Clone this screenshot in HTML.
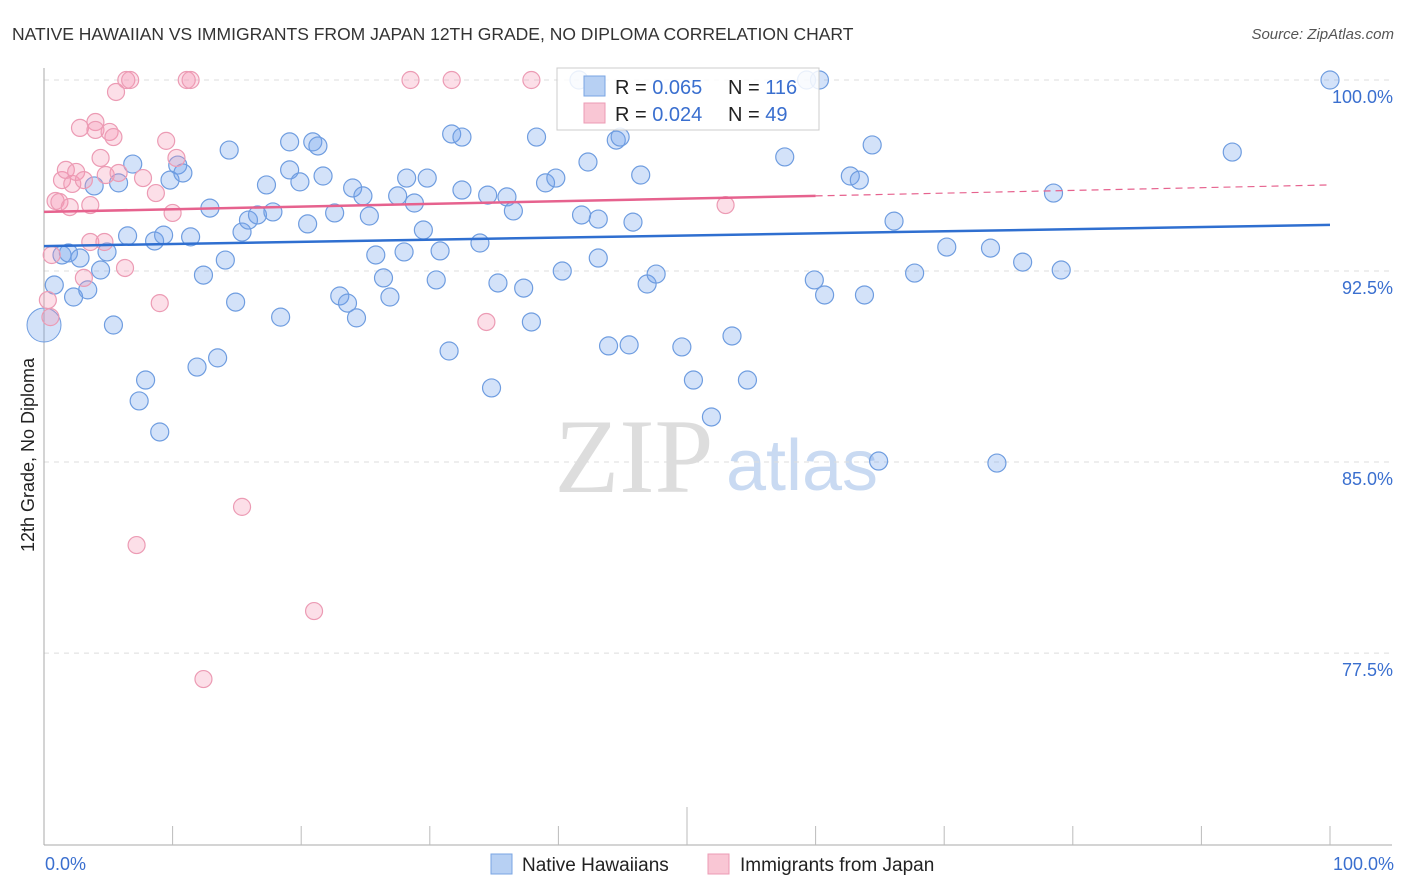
<!DOCTYPE html>
<html><head><meta charset="utf-8"><style>
body{margin:0;background:#fff;font-family:"Liberation Sans",sans-serif;}
svg{display:block}
</style></head><body>
<svg id="chart" width="1406" height="892">
<text x="12" y="40" font-size="17.5" fill="#333">NATIVE HAWAIIAN VS IMMIGRANTS FROM JAPAN 12TH GRADE, NO DIPLOMA CORRELATION CHART</text>
<text x="1394" y="39" font-size="15" fill="#555" font-style="italic" text-anchor="end">Source: ZipAtlas.com</text>
<g>
<text x="634" y="492" font-size="106" font-family="Liberation Serif,serif" fill="#ddd" text-anchor="middle">ZIP</text>
<text x="802" y="490" font-size="72" fill="#c9daf2" text-anchor="middle">atlas</text>
</g>
<g id="grid"></g>
<g id="axes"></g>
<g id="pts"></g>
<g id="trend"></g>
<text transform="translate(34,455) rotate(-90)" font-size="18" fill="#222" text-anchor="middle">12th Grade, No Diploma</text>
<g>
<rect x="557" y="68" width="262" height="62" fill="#fff" fill-opacity="0.85" stroke="#ccc"/>
<rect x="584" y="76" width="21" height="20" fill="#b7d0f3" stroke="#7aa5e3"/>
<rect x="584" y="103" width="21" height="20" fill="#f9c6d4" stroke="#ec9bb4"/>
<text x="615" y="94" font-size="20" fill="#222">R = <tspan fill="#3a6fcf">0.065</tspan></text>
<text x="728" y="94" font-size="20" fill="#222">N = <tspan fill="#3a6fcf">116</tspan></text>
<text x="615" y="121" font-size="20" fill="#222">R = <tspan fill="#3a6fcf">0.024</tspan></text>
<text x="728" y="121" font-size="20" fill="#222">N = <tspan fill="#3a6fcf"> 49</tspan></text>
</g>
<g>
<rect x="491" y="854" width="21" height="20" fill="#b7d0f3" stroke="#7aa5e3"/>
<text x="522" y="871" font-size="19" fill="#222">Native Hawaiians</text>
<rect x="708" y="854" width="21" height="20" fill="#f9c6d4" stroke="#ec9bb4"/>
<text x="740" y="871" font-size="19" fill="#222">Immigrants from Japan</text>
</g>
</svg>
<script>
const yTicks=[100,92.5,85,77.5];
const yTickLabels=["100.0%","92.5%","85.0%","77.5%"];
const xTickLabels=["0.0%","100.0%"];
const blueX=[0.8,1.4,1.9,2.3,2.8,3.4,3.9,4.4,4.9,5.4,5.8,6.5,6.9,7.4,7.9,8.6,9.0,9.3,9.8,10.4,10.8,11.4,11.9,12.4,12.9,13.5,14.1,14.4,14.9,15.4,15.9,16.6,17.3,17.8,18.4,19.1,19.1,19.9,20.5,20.9,21.3,21.7,22.6,23.0,23.6,24.0,24.3,24.8,25.3,25.8,26.4,26.9,27.5,28.0,28.2,28.8,29.5,29.8,30.5,30.8,31.5,31.7,32.5,32.5,33.9,34.5,34.8,35.3,36.0,36.5,37.3,37.9,38.3,39.0,39.8,40.3,41.6,41.8,42.3,43.1,43.1,43.9,44.5,44.8,45.5,45.8,46.4,46.9,47.6,49.6,50.5,51.9,53.5,54.7,57.6,59.3,59.9,60.3,60.7,62.7,63.4,63.8,64.4,64.9,66.1,67.7,70.2,73.6,74.1,76.1,78.5,79.1,92.4,100];
const blueY=[91.95,93.13,93.21,91.48,93.01,91.76,95.84,92.54,93.25,90.38,95.96,93.88,96.70,87.40,88.22,93.68,86.18,93.91,96.07,96.66,96.35,93.84,88.73,92.34,94.97,89.09,92.93,97.25,91.28,94.03,94.50,94.70,95.88,94.82,90.69,97.57,96.47,96.00,94.35,97.57,97.41,96.23,94.78,91.52,91.24,95.76,90.66,95.45,94.66,93.13,92.23,91.48,95.45,93.25,96.15,95.17,94.11,96.15,92.15,93.29,89.36,97.88,97.76,95.68,93.60,95.48,87.91,92.03,95.41,94.86,91.83,90.50,97.76,95.96,96.15,92.50,100,94.70,96.78,94.54,93.01,89.56,97.64,97.76,89.60,94.42,96.27,91.99,92.38,89.52,88.22,86.77,89.95,88.22,96.98,100,92.15,100,91.56,96.23,96.07,91.56,97.45,85.04,94.46,92.42,93.44,93.40,84.96,92.85,95.56,92.54,97.17,100];
const pinkX=[0.3,0.5,0.6,0.9,1.2,1.4,1.7,2.0,2.2,2.5,2.8,3.1,3.1,3.6,3.6,4.0,4.0,4.4,4.7,4.8,5.1,5.4,5.6,5.8,6.3,6.4,6.7,7.2,7.7,8.7,9.0,9.5,10.0,10.3,11.1,11.4,12.4,15.4,21.0,28.5,31.7,34.4,37.9,53.0];
const pinkY=[91.36,90.69,93.13,95.25,95.21,96.07,96.47,95.01,95.92,96.39,98.12,96.07,92.23,95.09,93.64,98.35,98.04,96.94,93.64,96.27,97.96,97.76,99.53,96.35,92.62,100,100,81.74,96.15,95.56,91.24,97.61,94.78,96.94,100,100,76.48,83.24,79.15,100,100,90.50,100,95.09];
const blueTrend=[93.48,94.31];
const pinkTrend=[94.82,95.45,95.88];
const NS="http://www.w3.org/2000/svg";
const X=v=>44+v*12.86;
const Y=v=>80+(100-v)*25.47;
function mk(tag,attrs,parent){const e=document.createElementNS(NS,tag);for(const k in attrs)e.setAttribute(k,attrs[k]);parent.appendChild(e);return e;}
const grid=document.getElementById('grid'),axes=document.getElementById('axes'),pts=document.getElementById('pts'),tr=document.getElementById('trend');
yTicks.forEach((t,i)=>{
 const l=mk('line',{x1:44,x2:1392,y1:Y(t),y2:Y(t),stroke:'#ddd','stroke-dasharray':'5,5'},grid);
 
 
 const tx=mk('text',{x:1393,y:Y(t)+23,'font-size':18,fill:'#3a6fcf','text-anchor':'end'},grid);
 tx.textContent=yTickLabels[i];
 
 
});
const ya=mk('line',{x1:44,x2:44,y1:68,y2:845,stroke:'#aaa'},axes);


const xa=mk('line',{x1:44,x2:1392,y1:845,y2:845,stroke:'#aaa'},axes);


for(let i=1;i<=10;i++){
 const tk=mk('line',{x1:X(i*10),x2:X(i*10),y1:i==5?807:826,y2:845,stroke:'#bbb'},axes);
 
 
}
[[0,'start',45],[100,'end',1394]].forEach((d,i)=>{
 const tx=mk('text',{x:d[2],y:870,'font-size':18,fill:'#3a6fcf','text-anchor':d[1]},axes);
 tx.textContent=xTickLabels[i];
 
 
});
blueX.forEach((v,i)=>{
 const c=mk('circle',{cx:X(v),cy:Y(blueY[i]),r:9,fill:'rgba(110,160,235,0.3)',stroke:'#6f9de0','stroke-width':1.2},pts);
 
 
});
const big=mk('circle',{cx:X(0),cy:Y(90.38),r:17,fill:'rgba(110,160,235,0.3)',stroke:'#6f9de0'},pts);


pinkX.forEach((v,i)=>{
 const c=mk('circle',{cx:X(v),cy:Y(pinkY[i]),r:8.5,fill:'rgba(245,150,180,0.3)',stroke:'#ec9bb4','stroke-width':1.2},pts);
 
 
});
const bt=mk('line',{x1:X(0),x2:X(100),y1:Y(blueTrend[0]),y2:Y(blueTrend[1]),stroke:'#2f6fd0','stroke-width':2.5},tr);


const pt=mk('line',{x1:X(0),x2:X(60),y1:Y(pinkTrend[0]),y2:Y(pinkTrend[1]),stroke:'#e6628e','stroke-width':2.5},tr);


const pd=mk('line',{x1:X(60),x2:X(100),y1:Y(pinkTrend[1]),y2:Y(pinkTrend[2]),stroke:'#e6628e','stroke-width':1.2,'stroke-dasharray':'7,5'},tr);


</script>
</body></html>
